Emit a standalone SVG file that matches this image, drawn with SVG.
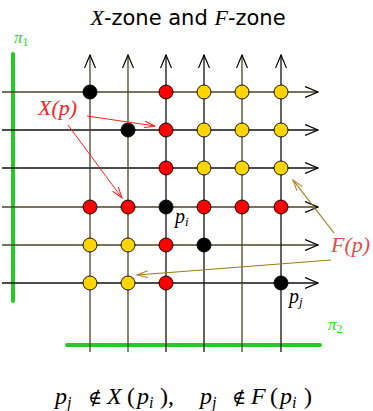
<svg xmlns="http://www.w3.org/2000/svg" width="373" height="411" viewBox="0 0 373 411">
<style>
.ln{stroke:#4a4428;stroke-width:1.3;fill:none}
.lk{stroke:#111;stroke-width:1.3;fill:none}
.dot{stroke:#000;stroke-width:0.9}
.r{fill:#ff0000}.y{fill:#ffd400}.k{fill:#000}
.g{stroke:#22cc22;stroke-width:4;stroke-linecap:round}
</style>
<defs>
<marker id="ah" viewBox="0 0 14 12" refX="13" refY="6" markerWidth="14" markerHeight="12" markerUnits="userSpaceOnUse" orient="auto">
<path d="M0,0.5 L13,6 L0,11.5" fill="none" stroke="#000" stroke-width="1.2"/>
</marker>
<marker id="ar" viewBox="0 0 12 8" refX="11" refY="4" markerWidth="12" markerHeight="8" markerUnits="userSpaceOnUse" orient="auto">
<path d="M0,0.5 L11,4 L0,7.5" fill="none" stroke="#ff2020" stroke-width="1"/>
</marker>
<marker id="ao" viewBox="0 0 12 8" refX="11" refY="4" markerWidth="12" markerHeight="8" markerUnits="userSpaceOnUse" orient="auto">
<path d="M0,0.5 L11,4 L0,7.5" fill="none" stroke="#c07818" stroke-width="1"/>
</marker>
</defs>
<rect width="373" height="411" fill="#fff"/>
<text x="188" y="25" font-size="21" text-anchor="middle" font-family="'DejaVu Sans', sans-serif" xml:space="preserve"><tspan font-family="'Liberation Serif', 'DejaVu Serif', serif" font-style="italic" font-size="22">X</tspan>-zone and <tspan font-family="'Liberation Serif', 'DejaVu Serif', serif" font-style="italic" font-size="22">F</tspan>-zone</text>
<g id="pi1"><line class="g" x1="13" y1="54" x2="13" y2="301"/><text x="14" y="43" font-family="'Liberation Serif', 'DejaVu Serif', serif" font-style="italic" font-size="17" fill="#22dd22">π<tspan font-size="12" dy="3" font-style="normal">1</tspan></text></g>
<g id="pi2"><line class="g" x1="67" y1="345" x2="320" y2="345"/><text x="328" y="330" font-family="'Liberation Serif', 'DejaVu Serif', serif" font-style="italic" font-size="17" fill="#22dd22">π<tspan font-size="12" dy="3" font-style="normal">2</tspan></text></g>
<g id="grid">
<line class="ln" x1="2" y1="92" x2="318" y2="92" marker-end="url(#ah)"/>
<line class="lk" x1="2" y1="130" x2="318" y2="130" marker-end="url(#ah)"/>
<line class="lk" x1="2" y1="168" x2="318" y2="168" marker-end="url(#ah)"/>
<line class="ln" x1="2" y1="207" x2="318" y2="207" marker-end="url(#ah)"/>
<line class="ln" x1="2" y1="245" x2="318" y2="245" marker-end="url(#ah)"/>
<line class="lk" x1="2" y1="283" x2="318" y2="283" marker-end="url(#ah)"/>
<line class="ln" x1="90" y1="352" x2="90" y2="55" marker-end="url(#ah)"/>
<line class="ln" x1="128" y1="352" x2="128" y2="55" marker-end="url(#ah)"/>
<line class="lk" x1="166" y1="352" x2="166" y2="55" marker-end="url(#ah)"/>
<line class="lk" x1="204" y1="352" x2="204" y2="55" marker-end="url(#ah)"/>
<line class="ln" x1="242" y1="352" x2="242" y2="55" marker-end="url(#ah)"/>
<line class="lk" x1="281" y1="352" x2="281" y2="55" marker-end="url(#ah)"/>
</g>
<g id="dots">
<circle class="dot k" cx="90" cy="92" r="7"/><circle class="dot r" cx="166" cy="92" r="7"/><circle class="dot y" cx="204" cy="92" r="7"/><circle class="dot y" cx="242" cy="92" r="7"/><circle class="dot y" cx="281" cy="92" r="7"/>
<circle class="dot k" cx="128" cy="130" r="7"/><circle class="dot r" cx="166" cy="130" r="7"/><circle class="dot y" cx="204" cy="130" r="7"/><circle class="dot y" cx="242" cy="130" r="7"/><circle class="dot y" cx="281" cy="130" r="7"/>
<circle class="dot r" cx="166" cy="168" r="7"/><circle class="dot y" cx="204" cy="168" r="7"/><circle class="dot y" cx="242" cy="168" r="7"/><circle class="dot y" cx="281" cy="168" r="7"/>
<circle class="dot r" cx="90" cy="207" r="7"/><circle class="dot r" cx="128" cy="207" r="7"/><circle class="dot k" cx="166" cy="207" r="7"/><circle class="dot r" cx="204" cy="207" r="7"/><circle class="dot r" cx="242" cy="207" r="7"/><circle class="dot r" cx="281" cy="207" r="7"/>
<circle class="dot y" cx="90" cy="245" r="7"/><circle class="dot y" cx="128" cy="245" r="7"/><circle class="dot r" cx="166" cy="245" r="7"/><circle class="dot k" cx="204" cy="245" r="7"/>
<circle class="dot y" cx="90" cy="283" r="7"/><circle class="dot y" cx="128" cy="283" r="7"/><circle class="dot r" cx="166" cy="283" r="7"/><circle class="dot k" cx="281" cy="283" r="7"/>
</g>
<g id="labels" font-family="'Liberation Serif', 'DejaVu Serif', serif" font-style="italic">
<text x="175" y="223" font-size="20">p<tspan font-size="13" dy="3">i</tspan></text>
<text x="289" y="303" font-size="20">p<tspan font-size="13" dy="3">j</tspan></text>
</g>
<g id="Xp"><text x="38" y="115" font-family="'Liberation Serif', 'DejaVu Serif', serif" font-style="italic" font-size="22" fill="#ff2020">X(p)</text></g>
<g id="Fp"><text x="331" y="252" font-family="'Liberation Serif', 'DejaVu Serif', serif" font-style="italic" font-size="22" fill="#f04848">F(p)</text></g>
<g id="connectors">
<line x1="87" y1="116" x2="155" y2="126" stroke="#ff2020" stroke-width="1" marker-end="url(#ar)"/>
<line x1="68" y1="125" x2="122" y2="198" stroke="#ff2020" stroke-width="1" marker-end="url(#ar)"/>
<line x1="334" y1="233" x2="293" y2="180" stroke="#9a7a10" stroke-width="1.2" marker-end="url(#ao)"/>
<line x1="331" y1="260" x2="137" y2="275" stroke="#9a7a10" stroke-width="1.2" marker-end="url(#ao)"/>
</g>
<g id="formula" font-family="'Liberation Serif', 'DejaVu Serif', serif" font-size="24">
<text x="55" y="404" font-style="italic">p<tspan font-size="16" dy="4">j</tspan></text>
<text x="95" y="404" font-size="19" text-anchor="middle">∉</text>
<text x="107" y="404" font-style="italic">X</text>
<text x="127" y="404">(</text>
<text x="137" y="404" font-style="italic">p<tspan font-size="16" dy="4">i</tspan></text>
<text x="160" y="404">),</text>
<text x="200" y="404" font-style="italic">p<tspan font-size="16" dy="4">j</tspan></text>
<text x="239" y="404" font-size="19" text-anchor="middle">∉</text>
<text x="251" y="404" font-style="italic">F</text>
<text x="270" y="404">(</text>
<text x="280" y="404" font-style="italic">p<tspan font-size="16" dy="4">i</tspan></text>
<text x="304" y="404">)</text>
</g>
</svg>
